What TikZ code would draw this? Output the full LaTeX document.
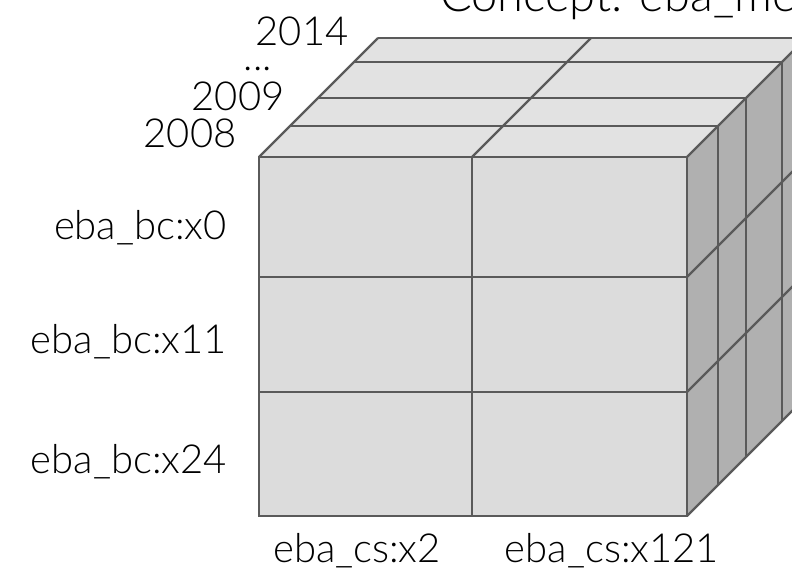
\documentclass[tikz,border=0pt]{standalone}
\usepackage{fontspec}
\setmainfont{Lato}[UprightFont=* Light]
\definecolor{edgec}{HTML}{5A5A5A}
\definecolor{frontc}{HTML}{DCDCDC}
\definecolor{topc}{HTML}{E2E2E2}
\definecolor{sidec}{HTML}{B0B0B0}
\begin{document}
\begin{tikzpicture}[x=1pt,y=-1pt,
  edge/.style={draw=edgec,line width=2.3pt},
  lab/.style={inner sep=0pt,font=\fontsize{40}{44}\selectfont,text=black},
  ttl/.style={inner sep=0pt,font=\fontsize{47}{50}\selectfont,text=black}]
\useasboundingbox (0,0) rectangle (792,570);
\clip (0,0) rectangle (792,570);
% corners
\coordinate (FTL) at (259,157);
\coordinate (FTR) at (687,157);
\coordinate (FBR) at (687,516);
\coordinate (FBL) at (259,516);
\coordinate (BTL) at (378,38);
\coordinate (BTR) at (806,38);
\coordinate (BBR) at (806,397);
% faces
\fill[topc] (FTL) -- (BTL) -- (BTR) -- (FTR) -- cycle;
\fill[sidec] (FTR) -- (BTR) -- (BBR) -- (FBR) -- cycle;
\fill[frontc] (FTL) rectangle (FBR);
% slice edges
\foreach \d in {31,59,95} {
  \draw[edge] (259+\d,157-\d) -- (687+\d,157-\d) -- (687+\d,516-\d);
}
\draw[edge] (BTL) -- (BTR);
% diagonals
\draw[edge] (FTL) -- (BTL);
\draw[edge] (472,157) -- (591,38);
\draw[edge] (FTR) -- (BTR);
\draw[edge] (687,277) -- (806,158);
\draw[edge] (687,392) -- (806,273);
\draw[edge] (FBR) -- (BBR);
% front grid
\draw[edge] (FTL) rectangle (FBR);
\draw[edge] (472,157) -- (472,516);
\draw[edge] (259,277) -- (687,277);
\draw[edge] (259,392) -- (687,392);
% labels
\node[ttl,anchor=base west] (title) at (440,11) {Concept: eba\_met};
\node[lab,anchor=base] (y2014) at (302,45) {2014};
\node[lab,anchor=base] (ydots) at (258,70) {...};
\node[lab,anchor=base] (y2009) at (238,110) {2009};
\node[lab,anchor=base] (y2008) at (190,147) {2008};
\node[lab,anchor=base east] (bc0) at (227,239) {eba\_bc:x0};
\node[lab,anchor=base east] (bc11) at (227,353) {eba\_bc:x11};
\node[lab,anchor=base east] (bc24) at (227,473) {eba\_bc:x24};
\node[lab,anchor=base] (cs2) at (357,562) {eba\_cs:x2};
\node[lab,anchor=base] (cs121) at (612,562) {eba\_cs:x121};
\end{tikzpicture}
\end{document}
